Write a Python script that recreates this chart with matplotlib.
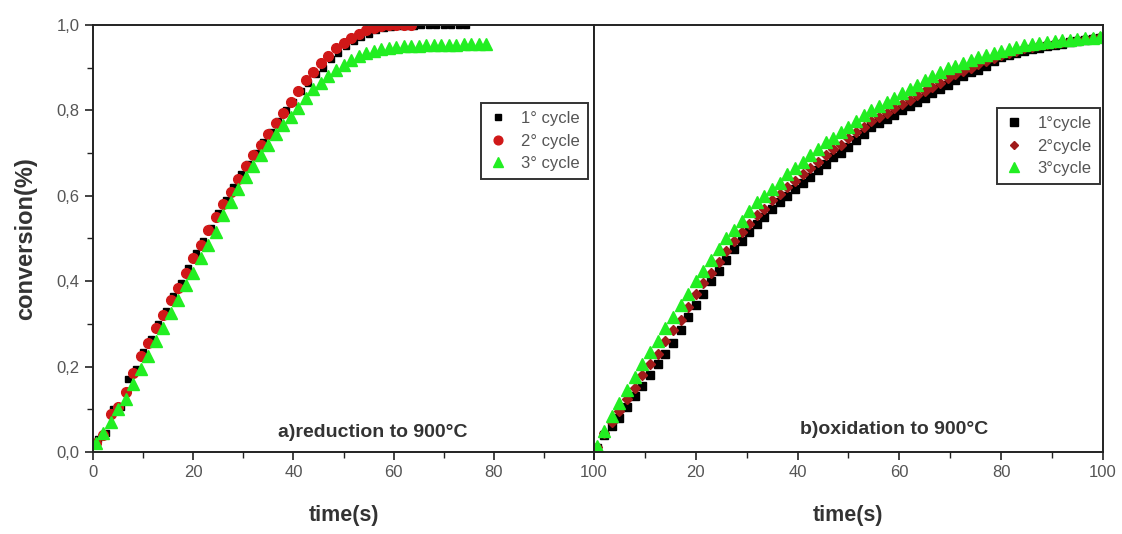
import numpy as np
import matplotlib
matplotlib.use("Agg")
import matplotlib.pyplot as plt
from matplotlib.ticker import MultipleLocator, FixedLocator

plt.rcParams['font.family'] = ['Liberation Sans', 'DejaVu Sans']

# sampling step of the recorded points (s)
step = 1.5

# a) reduction to 900 C
red_c1 = [0.03, 0.045, 0.10, 0.105, 0.17, 0.195, 0.235, 0.265, 0.30, 0.33,
          0.365, 0.395, 0.43, 0.465, 0.495, 0.525, 0.56, 0.59, 0.62, 0.65,
          0.675, 0.70, 0.725, 0.75, 0.775, 0.80, 0.82, 0.845, 0.865, 0.885,
          0.90, 0.92, 0.935, 0.95, 0.962, 0.972, 0.98, 0.988, 0.993, 0.996,
          0.997, 0.998, 0.998, 0.999, 0.999, 0.999, 1.0, 1.0, 1.0, 1.0]
red_c2 = [0.02, 0.04, 0.09, 0.105, 0.14, 0.185, 0.225, 0.255, 0.29, 0.32,
          0.355, 0.385, 0.42, 0.455, 0.485, 0.52, 0.55, 0.58, 0.61, 0.64,
          0.67, 0.695, 0.72, 0.745, 0.77, 0.795, 0.82, 0.845, 0.87, 0.89,
          0.91, 0.928, 0.945, 0.958, 0.97, 0.98, 0.988, 0.994, 0.997, 0.999,
          1.0, 1.0, 1.0]
red_c3 = [0.02, 0.045, 0.07, 0.10, 0.125, 0.16, 0.195, 0.225, 0.26, 0.29,
          0.325, 0.355, 0.39, 0.42, 0.455, 0.485, 0.515, 0.555, 0.585, 0.615,
          0.645, 0.67, 0.695, 0.72, 0.745, 0.765, 0.785, 0.805, 0.83, 0.85,
          0.865, 0.88, 0.895, 0.907, 0.917, 0.927, 0.935, 0.94, 0.944, 0.947,
          0.949, 0.95, 0.95, 0.951, 0.952, 0.952, 0.953, 0.954, 0.954, 0.955,
          0.955, 0.956, 0.956]

# b) oxidation to 900 C
ox_c1 = [0.01, 0.04, 0.06, 0.08, 0.105, 0.13, 0.155, 0.18, 0.205, 0.23,
         0.255, 0.285, 0.315, 0.345, 0.37, 0.40, 0.425, 0.45, 0.475, 0.495,
         0.515, 0.535, 0.55, 0.57, 0.585, 0.60, 0.615, 0.63, 0.645, 0.66,
         0.675, 0.69, 0.70, 0.715, 0.73, 0.745, 0.76, 0.77, 0.78, 0.79,
         0.80, 0.81, 0.82, 0.83, 0.84, 0.85, 0.86, 0.87, 0.88, 0.89,
         0.895, 0.905, 0.915, 0.925, 0.93, 0.935, 0.94, 0.944, 0.947, 0.95,
         0.953, 0.956, 0.96, 0.963, 0.966, 0.968, 0.97]
ox_c2 = [0.012, 0.045, 0.07, 0.095, 0.125, 0.15, 0.18, 0.205, 0.23, 0.26,
         0.285, 0.31, 0.34, 0.37, 0.395, 0.42, 0.445, 0.47, 0.495, 0.515,
         0.535, 0.555, 0.57, 0.59, 0.605, 0.62, 0.635, 0.65, 0.665, 0.68,
         0.695, 0.71, 0.72, 0.735, 0.75, 0.76, 0.775, 0.785, 0.795, 0.805,
         0.815, 0.825, 0.835, 0.845, 0.855, 0.865, 0.875, 0.885, 0.893, 0.90,
         0.908, 0.915, 0.922, 0.93, 0.935, 0.94, 0.945, 0.949, 0.952, 0.955,
         0.958, 0.96, 0.963, 0.965, 0.967, 0.969, 0.971]
ox_c3 = [0.015, 0.05, 0.085, 0.115, 0.145, 0.175, 0.205, 0.235, 0.26, 0.29,
         0.315, 0.345, 0.37, 0.40, 0.425, 0.45, 0.475, 0.50, 0.52, 0.54,
         0.565, 0.585, 0.60, 0.615, 0.63, 0.65, 0.665, 0.68, 0.695, 0.71,
         0.725, 0.735, 0.75, 0.76, 0.775, 0.79, 0.80, 0.81, 0.82, 0.83,
         0.84, 0.85, 0.86, 0.87, 0.88, 0.89, 0.90, 0.905, 0.912, 0.918,
         0.925, 0.93, 0.935, 0.94, 0.944, 0.948, 0.952, 0.955, 0.958, 0.96,
         0.962, 0.964, 0.966, 0.968, 0.969, 0.97, 0.972]

red_labels = ['1° cycle', '2° cycle', '3° cycle']
ox_labels = ['1°cycle', '2°cycle', '3°cycle']
y_ticks = [0.0, 0.2, 0.4, 0.6, 0.8, 1.0]
y_ticklabels = ['0,0', '0,2', '0,4', '0,6', '0,8', '1,0']
x_ticks = [0, 20, 40, 60, 80, 100]


def times(vals, start):
    return start + step * np.arange(len(vals))


fig = plt.figure(figsize=(11.22, 5.34), dpi=100)
axL = fig.add_axes([0.0829, 0.1536, 0.4465, 0.7996])
axR = fig.add_axes([0.5294, 0.1536, 0.4536, 0.7996])

tick_col = '#555555'

# left panel
axL.plot(times(red_c1, 1.0), red_c1, ls='none', marker='s', ms=5,
         color='black', label=red_labels[0])
axL.plot(times(red_c2, 0.5), red_c2, ls='none', marker='o', ms=7,
         color='#d01818', label=red_labels[1])
axL.plot(times(red_c3, 0.5), red_c3, ls='none', marker='^', ms=8,
         color='#22ee22', label=red_labels[2])

# right panel
axR.plot(times(ox_c1, 0.5), ox_c1, ls='none', marker='s', ms=6,
         color='black', label=ox_labels[0])
axR.plot(times(ox_c2, 0.5), ox_c2, ls='none', marker='D', ms=5,
         color='#a01a1a', label=ox_labels[1])
axR.plot(times(ox_c3, 0.5), ox_c3, ls='none', marker='^', ms=8,
         color='#22ee22', label=ox_labels[2])

for ax in (axL, axR):
    ax.set_xlim(0, 100)
    ax.set_ylim(0, 1.0)
    for sp in ax.spines.values():
        sp.set_linewidth(1.4)
        sp.set_color('#222222')
    ax.xaxis.set_major_locator(FixedLocator(x_ticks))
    ax.xaxis.set_minor_locator(MultipleLocator(10))
    ax.tick_params(axis='x', which='both', direction='out', colors='#222222',
                   labelcolor=tick_col, labelsize=12, top=False)
    ax.tick_params(axis='x', which='major', length=6, width=1.2)
    ax.tick_params(axis='x', which='minor', length=4, width=1.0)
    ax.set_xlabel('time(s)', fontsize=15.5, fontweight='bold', color='#333333',
                  labelpad=18)
    leg = ax.legend(loc='upper right', frameon=True, fancybox=False,
                    fontsize=12, handletextpad=0.9, borderpad=0.5,
                    labelspacing=0.45, handlelength=1.0, markerscale=0.9,
                    borderaxespad=0, labelcolor='#555555')
    leg.get_frame().set_edgecolor('black')
    leg.get_frame().set_linewidth(1.4)

axL.get_legend().set_bbox_to_anchor((0.988, 0.818))
axR.get_legend().set_bbox_to_anchor((0.994, 0.806))

axL.set_xticklabels([str(v) for v in x_ticks])
axR.set_xticklabels([''] + [str(v) for v in x_ticks[1:]])

axL.yaxis.set_major_locator(FixedLocator(y_ticks))
axL.set_yticklabels(y_ticklabels)
axL.yaxis.set_minor_locator(MultipleLocator(0.1))
axL.tick_params(axis='y', which='both', direction='out', colors='#222222',
                labelcolor=tick_col, labelsize=12, right=False)
axL.tick_params(axis='y', which='major', length=6, width=1.2)
axL.tick_params(axis='y', which='minor', length=4, width=1.0)
axL.set_ylabel('conversion(%)', fontsize=17, fontweight='bold',
               color='#333333', labelpad=14)

axR.tick_params(axis='y', which='both', left=False, right=False,
                labelleft=False)

axL.text(0.559, 0.045, 'a)reduction to 900°C', transform=axL.transAxes,
         ha='center', va='center', fontsize=14, fontweight='bold',
         color='#333333')
axR.text(0.59, 0.052, 'b)oxidation to 900°C', transform=axR.transAxes,
         ha='center', va='center', fontsize=14, fontweight='bold',
         color='#333333')

fig.savefig('out.png', dpi=100)
